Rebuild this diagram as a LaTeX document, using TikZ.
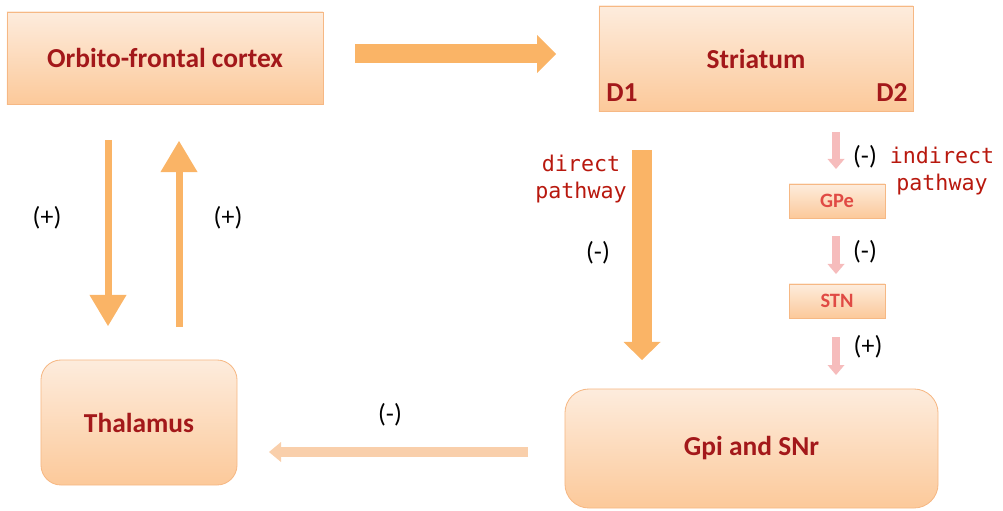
\documentclass[tikz,border=0pt]{standalone}
\usepackage{fontspec}
\setmainfont{Lato}
\newfontfamily\labelfont{Carlito}
\newfontfamily\pathfont{DejaVu Sans Mono}
\usetikzlibrary{arrows.meta}
\definecolor{loopboxtop}{HTML}{FDECDD}
\definecolor{loopboxbot}{HTML}{FCC99A}
\definecolor{loopedge}{HTML}{F6B884}
\definecolor{loopred}{HTML}{A3181A}
\definecolor{looppink}{HTML}{E04A44}
\definecolor{looporange}{HTML}{FAB466}
\definecolor{looppale}{HTML}{F9CFAB}
\definecolor{loopblush}{HTML}{F6BCBC}
\definecolor{pathred}{HTML}{B8180E}
\tikzset{
  regiontext/.style={inner sep=0pt,text=loopred,font=\labelfont\bfseries\fontsize{19.5}{21}\selectfont},
  region/.style={regiontext,draw=loopedge,line width=0.6pt,top color=loopboxtop,bottom color=loopboxbot},
  smallregion/.style={region,minimum width=2.4cm,minimum height=0.85cm,text=looppink,font=\labelfont\bfseries\fontsize{14.5}{16}\selectfont},
  sign/.style={font=\fontsize{17.5}{19}\selectfont},
  pathlabel/.style={align=center,text=pathred,font=\pathfont\fontsize{15.4}{19.5}\selectfont},
  fatarrow/.style n args={4}{draw=#1,line width=#2,-{Triangle[width=#3,length=#4,line width=0pt]}}
}
\begin{document}
\begin{tikzpicture}[x=0.025cm,y=-0.025cm]
  \useasboundingbox (0,0) rectangle (1003,511);
  % regions of the loop
  \node[region,minimum width=7.9cm,minimum height=2.3cm] (ofc) at (165,58) {Orbito-frontal cortex};
  \node[region,minimum width=7.85cm,minimum height=2.625cm] (str) at (756,58.5) {Striatum};
  \node[regiontext] (d1) at (622,93) {D1};
  \node[regiontext] (d2) at (892,93) {D2};
  \node[region,rounded corners=0.5cm,minimum width=4.9cm,minimum height=3.125cm] (thal) at (139,422.5) {Thalamus};
  \node[region,rounded corners=0.6cm,minimum width=9.325cm,minimum height=2.975cm] (gpi) at (751.5,448.5) {Gpi and SNr};
  \node[smallregion] (gpe) at (837,201) {GPe};
  \node[smallregion] (stn) at (837,301) {STN};
  % arrow ends
  \coordinate (ofcout) at (355,54);   \coordinate (strin) at (556,54);
  \coordinate (ofcdown) at (108,140); \coordinate (thalin) at (108,326);
  \coordinate (thalout) at (179,327); \coordinate (ofcin) at (179,141);
  \coordinate (d1out) at (642,150);   \coordinate (gpiin) at (642,360);
  \coordinate (gpiout) at (528,452);  \coordinate (thalback) at (269,452);
  \coordinate (d2out) at (836,132);   \coordinate (gpein) at (836,169);
  \coordinate (gpeout) at (836,236);  \coordinate (stnin) at (836,274);
  \coordinate (stnout) at (836,337);  \coordinate (gpitop) at (836,375);
  \draw[fatarrow={looporange}{0.475cm}{0.95cm}{0.475cm}] (ofcout) -- (strin);
  \draw[fatarrow={looporange}{0.175cm}{0.925cm}{0.775cm}] (ofcdown) -- (thalin);
  \draw[fatarrow={looporange}{0.175cm}{0.925cm}{0.775cm}] (thalout) -- (ofcin);
  \draw[fatarrow={looporange}{0.5cm}{0.925cm}{0.45cm}] (d1out) -- (gpiin);
  \draw[fatarrow={looppale}{0.25cm}{0.5cm}{0.3cm}] (gpiout) -- (thalback);
  \foreach \from/\to in {d2out/gpein,gpeout/stnin,stnout/gpitop}
    \draw[fatarrow={loopblush}{0.2cm}{0.425cm}{0.25cm}] (\from) -- (\to);
  % signs and pathway names
  \node[sign] (s1) at (47,218) {(+)};
  \node[sign] (s2) at (228,218) {(+)};
  \node[sign] (s3) at (390,415) {(-)};
  \node[sign] (s4) at (598,253) {(-)};
  \node[sign] (s5) at (865,157) {(-)};
  \node[sign] (s6) at (865,252) {(-)};
  \node[sign] (s7) at (868,347) {(+)};
  \node[pathlabel] (direct) at (581,179) {direct\\pathway};
  \node[pathlabel] (indirect) at (942,171) {indirect\\pathway};
\end{tikzpicture}
\end{document}
